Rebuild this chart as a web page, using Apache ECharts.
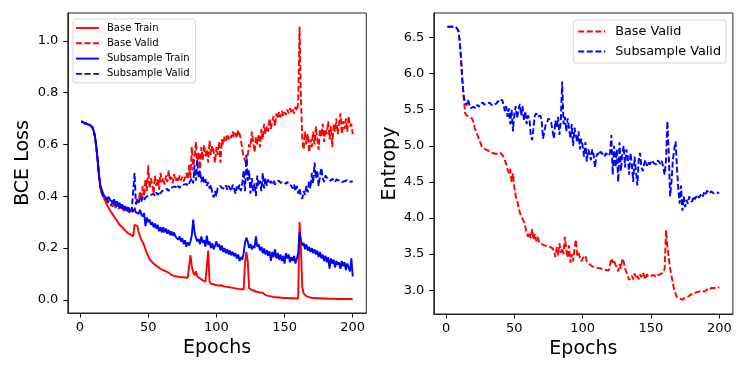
<!DOCTYPE html>
<html><head><meta charset="utf-8">
<script src="https://cdn.jsdelivr.net/npm/echarts@6/dist/echarts.min.js"></script>
<style>html,body{margin:0;padding:0;background:#fff}#c{width:747px;height:374px}</style>
</head><body><div id="c"></div>
<script>
// Epoch indices 1..200
const epochs = Array.from({length: 200}, (_, i) => i + 1);
const xTicks = [0, 50, 100, 150, 200];
const lossTicks = [0.0, 0.2, 0.4, 0.6, 0.8, 1.0];
const entropyTicks = [3.0, 3.5, 4.0, 4.5, 5.0, 5.5, 6.0, 6.5];

const baseTrain = [
0.690,0.685,0.683,0.682,0.680,0.679,0.676,0.672,0.668,0.655,
0.630,0.590,0.540,0.480,0.430,0.410,0.400,0.390,0.375,0.365,
0.355,0.345,0.338,0.330,0.322,0.315,0.306,0.298,0.290,0.285,
0.280,0.275,0.268,0.262,0.258,0.255,0.252,0.248,0.245,0.290,
0.295,0.285,0.262,0.245,0.232,0.222,0.210,0.195,0.180,0.170,
0.157,0.150,0.145,0.140,0.135,0.132,0.128,0.125,0.120,0.118,
0.115,0.112,0.110,0.115,0.105,0.100,0.096,0.093,0.092,0.091,
0.090,0.089,0.088,0.088,0.087,0.086,0.086,0.085,0.085,0.084,
0.173,0.130,0.105,0.095,0.110,0.090,0.095,0.082,0.078,0.075,
0.072,0.070,0.068,0.190,0.070,0.062,0.061,0.060,0.058,0.056,
0.056,0.055,0.054,0.056,0.052,0.051,0.050,0.050,0.049,0.048,
0.047,0.046,0.045,0.044,0.043,0.042,0.041,0.041,0.040,0.040,
0.140,0.185,0.150,0.045,0.040,0.038,0.036,0.034,0.032,0.030,
0.029,0.028,0.026,0.027,0.021,0.018,0.016,0.015,0.014,0.013,
0.012,0.011,0.010,0.010,0.009,0.009,0.008,0.008,0.008,0.007,
0.007,0.007,0.006,0.006,0.006,0.006,0.005,0.005,0.005,0.005,
0.300,0.200,0.050,0.025,0.018,0.014,0.012,0.010,0.009,0.008,
0.008,0.007,0.007,0.006,0.006,0.006,0.005,0.005,0.005,0.005,
0.004,0.004,0.004,0.004,0.004,0.004,0.004,0.003,0.003,0.003,
0.003,0.003,0.003,0.003,0.003,0.003,0.003,0.003,0.002,0.002];

const baseValid = [
0.690,0.686,0.684,0.683,0.681,0.679,0.677,0.673,0.669,0.656,
0.632,0.592,0.538,0.470,0.430,0.412,0.398,0.385,0.392,0.378,
0.382,0.368,0.375,0.360,0.370,0.355,0.365,0.350,0.362,0.348,
0.358,0.345,0.352,0.340,0.348,0.338,0.345,0.335,0.342,0.350,
0.360,0.395,0.375,0.420,0.385,0.440,0.400,0.465,0.420,0.520,
0.430,0.470,0.445,0.410,0.480,0.440,0.465,0.425,0.490,0.455,
0.470,0.445,0.480,0.455,0.500,0.460,0.475,0.450,0.485,0.460,
0.470,0.455,0.480,0.462,0.475,0.458,0.470,0.490,0.465,0.520,
0.470,0.590,0.500,0.555,0.610,0.520,0.570,0.505,0.590,0.540,
0.600,0.555,0.580,0.530,0.615,0.560,0.595,0.575,0.530,0.590,
0.560,0.610,0.530,0.620,0.600,0.630,0.615,0.640,0.620,0.635,
0.625,0.650,0.630,0.645,0.625,0.655,0.640,0.620,0.580,0.550,
0.540,0.520,0.560,0.600,0.590,0.650,0.610,0.570,0.630,0.600,
0.640,0.590,0.660,0.620,0.680,0.640,0.670,0.650,0.700,0.660,
0.690,0.710,0.670,0.720,0.700,0.725,0.705,0.730,0.710,0.725,
0.715,0.735,0.720,0.740,0.725,0.735,0.720,0.745,0.730,0.760,
1.055,0.780,0.620,0.580,0.650,0.600,0.640,0.570,0.620,0.590,
0.650,0.600,0.670,0.620,0.580,0.660,0.630,0.680,0.610,0.660,
0.640,0.690,0.620,0.670,0.590,0.680,0.650,0.700,0.640,0.680,
0.720,0.640,0.690,0.660,0.700,0.650,0.710,0.670,0.680,0.640];

const subTrain = [
0.690,0.684,0.682,0.681,0.680,0.678,0.675,0.671,0.666,0.652,
0.628,0.588,0.535,0.478,0.440,0.425,0.410,0.400,0.395,0.390,
0.398,0.385,0.392,0.378,0.388,0.372,0.380,0.365,0.375,0.360,
0.368,0.352,0.362,0.345,0.358,0.348,0.340,0.355,0.342,0.350,
0.338,0.345,0.332,0.348,0.330,0.322,0.335,0.285,0.318,0.300,
0.310,0.290,0.300,0.280,0.295,0.275,0.290,0.265,0.280,0.260,
0.280,0.260,0.275,0.255,0.270,0.250,0.265,0.248,0.260,0.245,
0.250,0.232,0.245,0.225,0.238,0.215,0.230,0.205,0.222,0.210,
0.225,0.250,0.310,0.260,0.240,0.225,0.235,0.215,0.245,0.220,
0.230,0.205,0.248,0.212,0.225,0.200,0.218,0.195,0.210,0.225,
0.205,0.215,0.190,0.210,0.185,0.200,0.180,0.195,0.175,0.190,
0.172,0.185,0.168,0.180,0.160,0.175,0.150,0.165,0.155,0.180,
0.220,0.240,0.225,0.200,0.215,0.195,0.210,0.200,0.245,0.205,
0.215,0.190,0.205,0.180,0.198,0.175,0.192,0.170,0.188,0.150,
0.185,0.165,0.195,0.160,0.180,0.155,0.175,0.150,0.170,0.140,
0.180,0.160,0.175,0.145,0.165,0.150,0.170,0.140,0.160,0.180,
0.260,0.230,0.210,0.220,0.195,0.215,0.190,0.205,0.185,0.200,
0.180,0.195,0.175,0.190,0.165,0.185,0.160,0.175,0.150,0.170,
0.145,0.165,0.120,0.160,0.140,0.155,0.125,0.150,0.135,0.145,
0.120,0.150,0.130,0.145,0.115,0.140,0.125,0.110,0.160,0.090];

const subValid = [
0.690,0.685,0.683,0.682,0.680,0.678,0.676,0.672,0.667,0.654,
0.630,0.590,0.538,0.475,0.435,0.415,0.400,0.390,0.385,0.388,
0.375,0.382,0.368,0.378,0.362,0.372,0.358,0.368,0.355,0.365,
0.350,0.362,0.345,0.358,0.342,0.355,0.340,0.350,0.345,0.490,
0.370,0.385,0.375,0.392,0.380,0.398,0.385,0.395,0.388,0.402,
0.395,0.405,0.398,0.410,0.402,0.415,0.405,0.418,0.410,0.420,
0.415,0.425,0.418,0.428,0.420,0.432,0.425,0.435,0.428,0.438,
0.430,0.440,0.432,0.442,0.435,0.445,0.438,0.448,0.440,0.450,
0.445,0.470,0.450,0.520,0.460,0.540,0.470,0.500,0.455,0.480,
0.450,0.465,0.440,0.455,0.430,0.445,0.410,0.395,0.420,0.400,
0.435,0.428,0.440,0.432,0.438,0.430,0.442,0.425,0.440,0.435,
0.420,0.445,0.430,0.410,0.438,0.425,0.445,0.420,0.450,0.500,
0.420,0.560,0.460,0.500,0.410,0.470,0.420,0.450,0.400,0.480,
0.440,0.460,0.420,0.490,0.430,0.470,0.440,0.465,0.448,0.458,
0.450,0.462,0.445,0.455,0.448,0.460,0.452,0.446,0.455,0.450,
0.448,0.456,0.445,0.452,0.440,0.430,0.445,0.420,0.440,0.410,
0.430,0.400,0.390,0.420,0.405,0.440,0.415,0.460,0.430,0.490,
0.450,0.530,0.470,0.500,0.440,0.480,0.510,0.470,0.455,0.480,
0.475,0.465,0.470,0.460,0.468,0.462,0.455,0.465,0.458,0.460,
0.462,0.455,0.460,0.458,0.455,0.462,0.460,0.456,0.460,0.458];

const baseEntropy = [
6.650,6.650,6.650,6.650,6.650,6.650,6.650,6.640,6.600,6.450,
6.200,5.900,5.650,5.450,5.420,5.400,5.400,5.390,5.380,5.330,
5.250,5.200,5.150,5.100,5.050,5.000,4.980,4.960,4.950,4.940,
4.930,4.920,4.910,4.900,4.900,4.890,4.880,4.890,4.880,4.900,
4.880,4.850,4.800,4.750,4.680,4.620,4.680,4.500,4.620,4.420,
4.300,4.250,4.150,4.080,4.020,4.000,3.950,3.880,3.800,3.740,
3.800,3.720,3.850,3.700,3.780,3.680,3.740,3.660,3.650,3.640,
3.630,3.620,3.620,3.610,3.600,3.600,3.590,3.580,3.540,3.460,
3.600,3.480,3.650,3.520,3.580,3.500,3.740,3.560,3.450,3.620,
3.380,3.500,3.400,3.580,3.700,3.480,3.520,3.450,3.400,3.440,
3.420,3.480,3.400,3.380,3.360,3.340,3.330,3.320,3.320,3.310,
3.310,3.300,3.300,3.290,3.290,3.280,3.280,3.270,3.270,3.280,
3.440,3.380,3.420,3.350,3.320,3.260,3.360,3.300,3.440,3.400,
3.300,3.250,3.200,3.140,3.120,3.200,3.150,3.230,3.180,3.210,
3.150,3.220,3.180,3.240,3.200,3.150,3.220,3.190,3.210,3.200,
3.190,3.210,3.200,3.180,3.210,3.200,3.220,3.210,3.250,3.300,
3.830,3.600,3.450,3.300,3.200,3.100,3.000,2.950,2.900,2.910,
2.880,2.860,2.870,2.880,2.900,2.920,2.910,2.930,2.940,2.950,
2.940,2.960,2.970,2.950,2.980,3.000,2.990,3.010,2.980,3.000,
3.010,3.020,3.000,3.030,3.020,3.030,3.040,3.030,3.040,3.040];

const subEntropy = [
6.650,6.650,6.650,6.650,6.650,6.650,6.650,6.640,6.600,6.450,
6.200,5.900,5.680,5.600,5.560,5.640,5.580,5.520,5.500,5.540,
5.560,5.520,5.570,5.540,5.580,5.560,5.600,5.570,5.550,5.580,
5.560,5.600,5.570,5.550,5.560,5.580,5.590,5.620,5.600,5.610,
5.640,5.580,5.480,5.550,5.400,5.520,5.300,5.500,5.200,5.450,
5.550,5.380,5.500,5.580,5.420,5.550,5.350,5.480,5.300,5.420,
5.380,5.150,5.080,5.250,5.420,5.450,5.400,5.380,5.420,5.350,
5.100,5.200,5.300,5.330,5.380,5.350,5.320,5.200,5.100,5.350,
5.250,5.400,5.150,5.350,5.890,5.300,5.400,5.200,5.380,5.250,
5.100,5.300,5.000,5.250,5.150,5.050,5.200,4.950,5.100,5.000,
4.850,5.050,4.780,4.950,4.900,4.800,4.950,4.880,4.700,4.850,
4.900,4.870,4.920,4.900,4.880,4.850,4.900,4.880,4.860,4.900,
5.150,4.600,5.000,4.700,4.950,4.500,5.050,4.650,4.900,5.000,
4.700,4.950,4.850,4.600,4.900,4.750,4.500,4.850,4.650,4.450,
4.800,4.900,4.700,4.650,4.750,4.800,4.720,4.780,4.740,4.760,
4.800,4.760,4.780,4.740,4.800,4.780,4.750,4.790,4.770,4.600,
4.800,5.340,4.900,4.300,4.500,4.800,4.950,5.060,4.700,4.400,
4.200,4.450,4.100,4.300,4.150,4.250,4.200,4.300,4.250,4.220,
4.300,4.260,4.240,4.320,4.280,4.300,4.340,4.300,4.360,4.330,
4.380,4.360,4.340,4.370,4.350,4.340,4.360,4.350,4.340,4.350];

const pairs = arr => epochs.map((e, i) => [e, arr[i]]);
const FONT = 'DejaVu Sans';
const dash = [6, 2.6];
const AX = '#262626';

function xAxisCfg(gridIndex) {
  return {
    type: 'value', gridIndex, min: -8.95, max: 209.95, position: 'bottom',
    name: 'Epochs', nameLocation: 'middle', nameGap: 25.5,
    nameTextStyle: {fontFamily: FONT, fontSize: 19, color: '#000'},
    axisLine: {show: true, onZero: false, lineStyle: {color: AX, width: 1}}, splitLine: {show: false},
    axisTick: {show: true, length: 4.5, inside: false, lineStyle: {color: '#000', width: 1}, customValues: xTicks},
    axisLabel: {fontFamily: FONT, fontSize: 13, color: '#000', margin: 8, customValues: xTicks}
  };
}
function yAxisCfg(gridIndex, name, min, max, ticks, gap) {
  return {
    type: 'value', gridIndex, min, max, position: 'left',
    name, nameLocation: 'middle', nameGap: gap, nameRotate: 90,
    nameTextStyle: {fontFamily: FONT, fontSize: 19, color: '#000'},
    axisLine: {show: true, onZero: false, lineStyle: {color: AX, width: 1}}, splitLine: {show: false},
    axisTick: {show: true, length: 4.5, lineStyle: {color: '#000', width: 1}, customValues: ticks},
    axisLabel: {fontFamily: FONT, fontSize: 13, color: '#000', margin: 9.5, customValues: ticks,
      formatter: v => v.toFixed(1)}
  };
}
function line(name, data, color, dashed, xi, yi) {
  return {
    type: 'line', name, data: pairs(data), xAxisIndex: xi, yAxisIndex: yi,
    symbol: 'none', showSymbol: false, animation: false, z: 3,
    lineStyle: {color, width: 1.9, type: dashed ? dash : 'solid'},
    itemStyle: {color}
  };
}
const hiddenSymbol = {color: 'rgba(0,0,0,0)', borderColor: 'rgba(0,0,0,0)', borderWidth: 0, opacity: 0};

const chart = echarts.init(document.getElementById('c'), null, {renderer: 'canvas'});
chart.setOption({
  animation: false,
  backgroundColor: '#fff',
  grid: [
    {left: 67.8, top: 13, width: 298.5, height: 300, show: true, borderColor: AX, borderWidth: 1, backgroundColor: 'transparent'},
    {left: 433.8, top: 13, width: 299.1, height: 301, show: true, borderColor: AX, borderWidth: 1, backgroundColor: 'transparent'}
  ],
  xAxis: [xAxisCfg(0), xAxisCfg(1)],
  yAxis: [
    yAxisCfg(0, 'BCE Loss', -0.051, 1.108, lossTicks, 35),
    yAxisCfg(1, 'Entropy', 2.67, 6.84, entropyTicks, 33)
  ],
  legend: [
    {
      data: ['Base Train', 'Base Valid', 'Subsample Train', 'Subsample Valid'],
      orient: 'vertical', left: 73, top: 19, padding: [4, 6, 4, 2],
      itemWidth: 23, itemHeight: 10, itemGap: 5.3,
      itemStyle: hiddenSymbol,
      lineStyle: {width: 1.9},
      backgroundColor: 'rgba(255,255,255,0.8)', borderColor: '#d5d5d5', borderWidth: 1, borderRadius: 3,
      textStyle: {fontFamily: FONT, fontSize: 10, color: '#000', padding: [0, 0, 0, 3]},
      selectedMode: false
    },
    {
      data: [{name: 'Base Valid '}, {name: 'Subsample Valid '}],
      orient: 'vertical', right: 21, top: 20, padding: [5, 5, 5, 4],
      itemWidth: 27, itemHeight: 12, itemGap: 7,
      itemStyle: hiddenSymbol,
      lineStyle: {width: 1.9},
      backgroundColor: 'rgba(255,255,255,0.8)', borderColor: '#d5d5d5', borderWidth: 1, borderRadius: 3,
      textStyle: {fontFamily: FONT, fontSize: 12.8, color: '#000', padding: [0, 0, 0, 5]},
      formatter: n => n.trim(),
      selectedMode: false
    }
  ],
  series: [
    line('Base Train', baseTrain, '#ff0000', false, 0, 0),
    line('Base Valid', baseValid, '#ff0000', true, 0, 0),
    line('Subsample Train', subTrain, '#0000ff', false, 0, 0),
    line('Subsample Valid', subValid, '#0000ff', true, 0, 0),
    line('Base Valid ', baseEntropy, '#ff0000', true, 1, 1),
    line('Subsample Valid ', subEntropy, '#0000ff', true, 1, 1)
  ]
});
</script></body></html>
